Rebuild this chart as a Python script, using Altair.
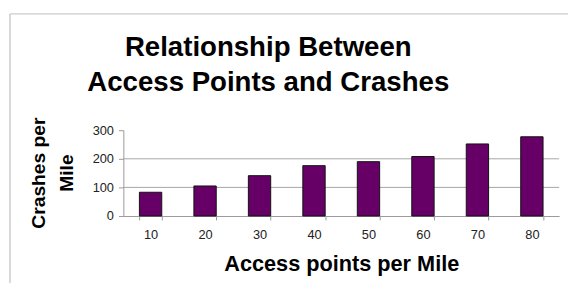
import altair as alt
import pandas as pd

access_points = ["10", "20", "30", "40", "50", "60", "70", "80"]
crashes = [83, 105, 141, 176, 190, 208, 252, 277]
grid_values = [100, 200]
y_ticks = [0, 100, 200, 300]

W, H = 442, 87
PAD = {"left": 117, "top": 122, "right": 9, "bottom": 66}
FONT = "Liberation Sans, Arial, Helvetica, sans-serif"

df = pd.DataFrame({"ap": access_points, "crashes": crashes})
gdf = pd.DataFrame({"crashes": grid_values})

y_scale = alt.Scale(domain=[0, 300], nice=False, zero=True)
y_axis = alt.Axis(
    title=["Crashes per", "Mile"],
    values=y_ticks,
    grid=False,
    tickSize=5,
    labelPadding=5,
    titleAngle=270,
    titleX=-80,
    titleY=43,
    titleAlign="center",
    titleBaseline="alphabetic",
    titleLineHeight=28,
)

grid = alt.Chart(gdf).mark_rule(color="#a6a6a6", strokeWidth=1).encode(
    y=alt.Y("crashes:Q", scale=y_scale, axis=y_axis)
)

bars = alt.Chart(df).mark_bar(color="#660066", stroke="#111111", strokeWidth=1).encode(
    x=alt.X(
        "ap:N",
        sort=access_points,
        scale=alt.Scale(paddingInner=0.59, paddingOuter=0.295),
        axis=alt.Axis(
            title="Access points per Mile",
            labelAngle=0,
            tickBand="extent",
            tickSize=4,
            labelPadding=9,
            titleY=55,
            titleBaseline="alphabetic",
        ),
    ),
    y=alt.Y("crashes:Q", scale=y_scale, axis=y_axis),
)

frame_left = alt.Chart(alt.Data(values=[{}])).mark_rule(color="#cccccc", strokeWidth=1.5).encode(
    x=alt.value(-115), y=alt.value(-118), y2=alt.value(H + PAD["bottom"] + 5)
)
frame_top = alt.Chart(alt.Data(values=[{}])).mark_rule(color="#cccccc", strokeWidth=1.5).encode(
    x=alt.value(-115), x2=alt.value(W + PAD["right"] + 5), y=alt.value(-118)
)

chart = (
    alt.layer(frame_left, frame_top, grid, bars)
    .properties(
        width=W,
        height=H,
        autosize=alt.AutoSizeParams(type="none"),
        padding=PAD,
        title=alt.TitleParams(
            text=["Relationship Between", "Access Points and Crashes"],
            anchor="middle",
            frame="group",
            dx=-74,
            offset=-107,
            baseline="alphabetic",
            fontSize=28,
            lineHeight=36,
            font=FONT,
            fontWeight="bold",
            color="#000000",
        ),
    )
    .configure(background="white", font=FONT)
    .configure_view(stroke=None)
    .configure_axis(
        labelFont=FONT,
        labelFontSize=13,
        labelColor="#222222",
        titleFont=FONT,
        titleFontWeight="bold",
        titleColor="#000000",
        domainColor="#999999",
        tickColor="#999999",
    )
    .configure_axisX(titleFontSize=22)
    .configure_axisY(titleFontSize=19.5)
)

chart.save("out.html", embed_options={"renderer": "svg", "actions": False})
